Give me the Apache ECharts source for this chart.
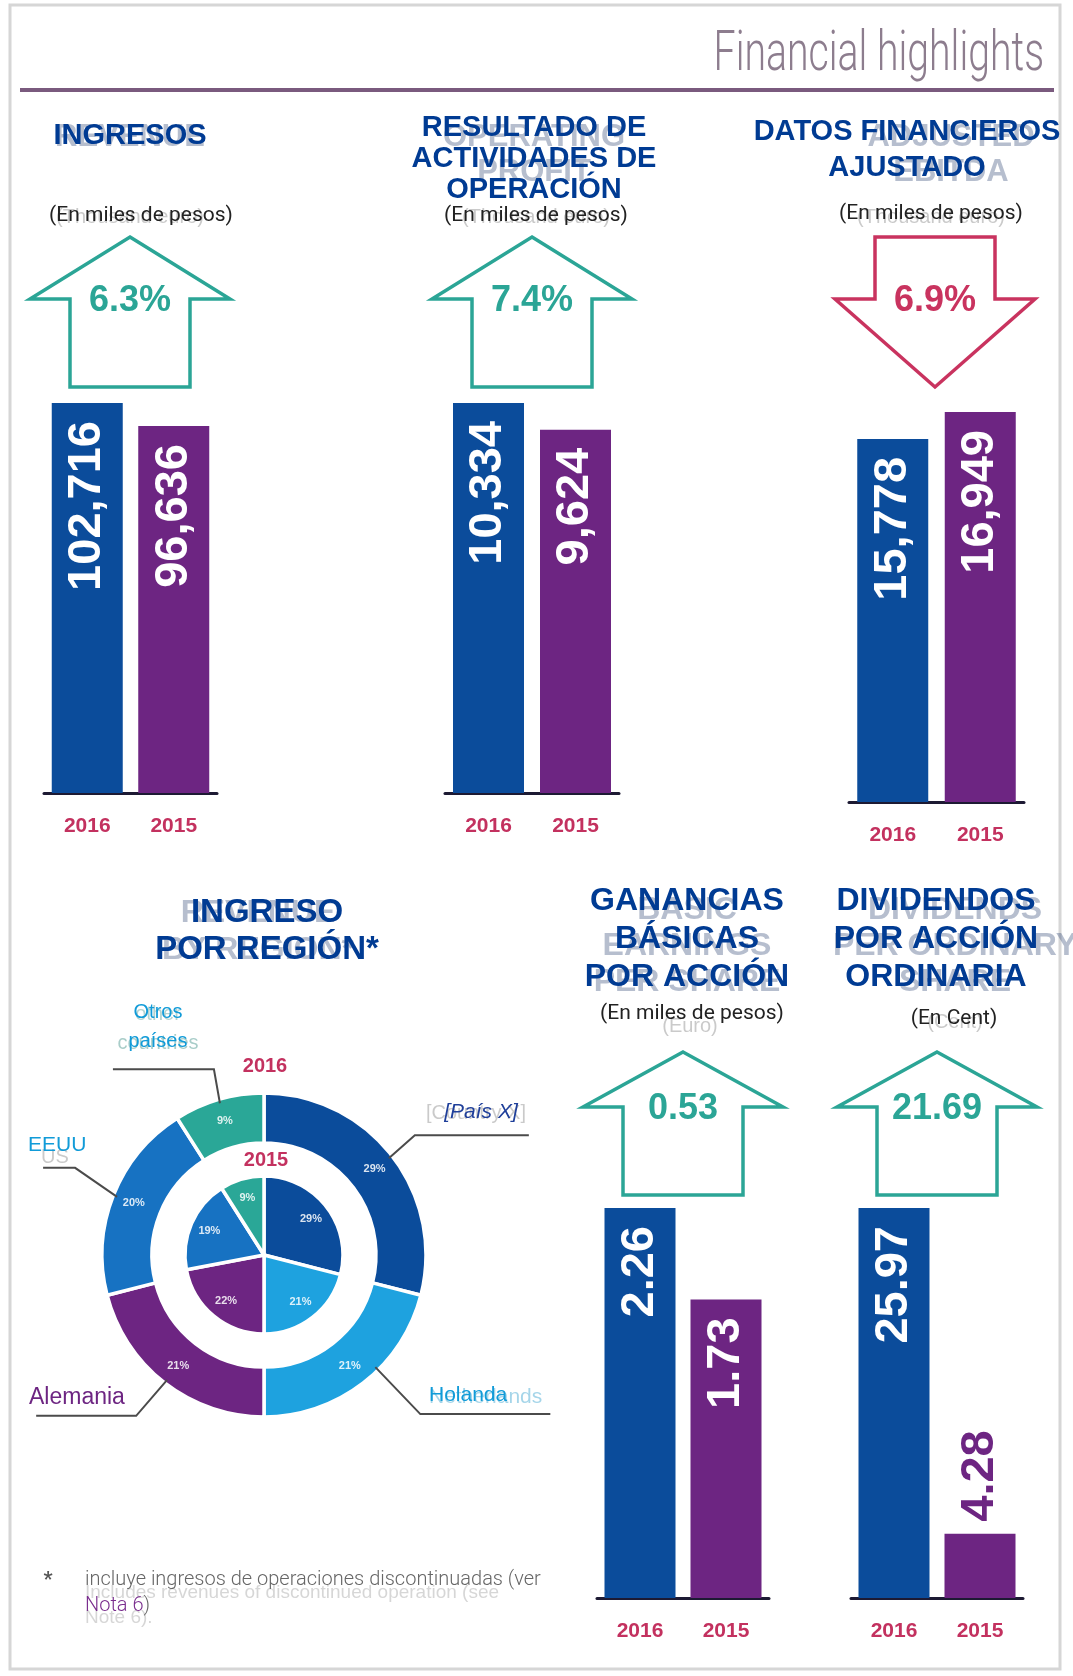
<!DOCTYPE html>
<html>
<head>
<meta charset="utf-8">
<script src="https://cdn.jsdelivr.net/npm/echarts/dist/echarts.min.js"></script>
<style>
  html, body { margin: 0; padding: 0; background: #fff; }
  #main { width: 1073px; height: 1676px; }
</style>
</head>
<body>
<div id="main"></div>
<script>
// datos
const years = ["2016", "2015"];
const ingresos = [102716, 96636];
const resultado = [10334, 9624];
const ebitda = [15778, 16949];
const ganancias = [2.26, 1.73];
const dividendos = [25.97, 4.28];
const cambios = ["6.3%", "7.4%", "6.9%", "0.53", "21.69"];

const regiones = ["[País X]", "Holanda", "Alemania", "EEUU", "Otros países"];
const region2016 = [29, 21, 21, 20, 9];
const region2015 = [29, 21, 22, 19, 9];

const BLUE = "#0b4c9b";
const PURPLE = "#6d2582";
const TEAL = "#2ba596";
const CRIMSON = "#c9335f";
const TITLE = "#003b93";
const SANS = "Liberation Sans";

const myChart = echarts.init(document.getElementById("main"));

// paneles de barras
const panels = [
  { values: ingresos, fmt: v => v.toLocaleString("en-US"), left: 44, top: 403, width: 173 },
  { values: resultado, fmt: v => v.toLocaleString("en-US"), left: 445, top: 403, width: 174 },
  { values: ebitda, fmt: v => v.toLocaleString("en-US"), left: 849, top: 412, width: 175 },
  { values: ganancias, fmt: v => v.toFixed(2), left: 597, top: 1208, width: 172 },
  { values: dividendos, fmt: v => v.toFixed(2), left: 851, top: 1208, width: 172 },
];

const grid = [], xAxis = [], yAxis = [], series = [];
panels.forEach((p, i) => {
  const max = Math.max(...p.values);
  grid.push({ left: p.left, top: p.top, width: p.width, height: 390 });
  xAxis.push({
    type: "category", gridIndex: i, data: years,
    axisTick: { show: false },
    axisLine: { lineStyle: { color: "#1d1a33", width: 3 } },
    axisLabel: { color: "#c3315f", fontWeight: "bold", fontSize: 21, margin: 23, fontFamily: SANS },
  });
  yAxis.push({ type: "value", gridIndex: i, min: 0, max: max, show: false });
  series.push({
    type: "bar", xAxisIndex: i, yAxisIndex: i, barWidth: 71, silent: true,
    data: p.values.map((v, j) => ({
      value: v,
      itemStyle: { color: j === 0 ? BLUE : PURPLE },
      label: v / max < 0.35 ? { position: "top", align: "left", color: PURPLE, distance: 12 } : undefined,
    })),
    label: {
      show: true, formatter: d => p.fmt(d.value), rotate: 90,
      position: "insideTop", align: "right", verticalAlign: "middle", distance: 18,
      color: "#fff", fontSize: 47, fontWeight: "bold", fontFamily: SANS,
    },
  });
});

// dona por region
const pieColors = [BLUE, "#1ea2df", PURPLE, "#1772c2", "#2aa797"];
const CX = 264, CY = 1255;
function midAngles(arr) {
  const tot = arr.reduce((a, b) => a + b, 0);
  let acc = 0;
  return arr.map(v => { const a = (acc + v / 2) / tot * 2 * Math.PI; acc += v; return a; });
}
const mid2016 = midAngles(region2016);
const mid2015 = midAngles(region2015);

series.push({
  type: "pie", center: [CX, CY], radius: [112, 162], startAngle: 90, silent: true,
  data: regiones.map((n, i) => ({ name: n, value: region2016[i], itemStyle: { color: pieColors[i] } })),
  itemStyle: { borderColor: "#fff", borderWidth: 3.5 },
  label: { position: "inside", formatter: "{c}%", color: "rgba(255,255,255,0.85)", fontSize: 11, fontWeight: "bold", fontFamily: SANS },
  labelLine: { show: false },
});
series.push({
  type: "pie", center: [CX, CY], radius: [0, 79], startAngle: 90, silent: true,
  data: regiones.map((n, i) => ({ name: n, value: region2015[i], itemStyle: { color: pieColors[i] } })),
  itemStyle: { borderColor: "#fff", borderWidth: 3.5 },
  label: { position: "inside", formatter: "{c}%", color: "rgba(255,255,255,0.85)", fontSize: 11, fontWeight: "bold", fontFamily: SANS },
  labelLine: { show: false },
  labelLayout: p => {
    const a = mid2015[p.dataIndex], s = 17;
    return { dx: s * Math.sin(a), dy: -s * Math.cos(a) };
  },
});

// graficos decorativos
const g = [];
g.push({ type: "rect", shape: { x: 10, y: 5, width: 1050, height: 1664 }, style: { fill: null, stroke: "#d6d6d6", lineWidth: 3 }, z: 0 });
g.push({ type: "text", style: { text: "Financial highlights", x: 1044, y: 56, textAlign: "right", textVerticalAlign: "middle", fill: "#8d7d8e", font: "300 56px Roboto" }, scaleX: 0.7, originX: 1044, z: 5 });
g.push({ type: "line", shape: { x1: 20, y1: 90, x2: 1054, y2: 90 }, style: { stroke: "#7a5a7e", lineWidth: 4 }, z: 5 });

function ghost(text, x, y, size, color, align) {
  g.push({
    type: "text", z: 2,
    style: {
      text, x, y, textAlign: align || "center", textVerticalAlign: "middle",
      font: (size > 24 ? "bold " : "") + size + "px " + SANS,
      fill: color, shadowColor: color, shadowBlur: 5,
    },
  });
}
const GB = "rgba(40,65,110,0.34)";
const GG = "rgba(90,90,90,0.32)";
ghost("REVENUE", 130, 137, 31, GB);
ghost("OPERATING", 534, 137, 31, GB);
ghost("PROFIT", 534, 172, 31, GB);
ghost("ADJUSTED", 951, 137, 31, GB);
ghost("EBITDA", 951, 172, 31, GB);
ghost("(Thousand euro)", 130, 217, 20, GG);
ghost("(Thousand euro)", 536, 217, 20, GG);
ghost("(Thousand euro)", 931, 217, 20, GG);
ghost("REVENUE", 258, 913, 32, GB);
ghost("BY REGION*", 258, 950, 32, GB);
ghost("BASIC", 687, 910, 32, GB);
ghost("EARNINGS", 687, 946, 32, GB);
ghost("PER SHARE", 687, 982, 32, GB);
ghost("DIVIDENDS", 955, 910, 32, GB);
ghost("PER ORDINARY", 955, 946, 32, GB);
ghost("SHARE", 955, 982, 32, GB);
ghost("(Euro)", 690, 1026, 20, GG);
ghost("(Cent)", 955, 1022, 20, GG);
ghost("other", 158, 1014, 20, "rgba(40,130,120,0.35)");
ghost("countries", 158, 1043, 20, "rgba(40,130,120,0.4)");
ghost("US", 55, 1157, 20, GG);
ghost("[Country X]", 476, 1113, 20, GG);
ghost("Netherlands", 429, 1397, 21, "rgba(30,150,200,0.4)", "left");
ghost("Includes revenues of discontinued operation (see", 85, 1593, 19, "rgba(90,90,90,0.25)", "left");
ghost("Note 6).", 85, 1618, 19, "rgba(90,90,90,0.25)", "left");

function title(text, x, y, size, lh) {
  g.push({
    type: "text", z: 6,
    style: { text, x, y, textAlign: "center", textVerticalAlign: "top", font: "bold " + size + "px " + SANS, fill: TITLE, lineHeight: lh },
  });
}
title("INGRESOS", 130, 120, 29, 31);
title("RESULTADO DE\nACTIVIDADES DE\nOPERACIÓN", 534, 112, 29, 31);
title("DATOS FINANCIEROS\nAJUSTADO", 907, 114, 29, 36);
title("INGRESO\nPOR REGIÓN*", 267, 894, 33, 37);
title("GANANCIAS\nBÁSICAS\nPOR ACCIÓN", 687, 882, 32, 38);
title("DIVIDENDOS\nPOR ACCIÓN\nORDINARIA", 936, 882, 32, 38);

function sub(text, x, y) {
  g.push({ type: "text", z: 6, style: { text, x, y, textAlign: "center", textVerticalAlign: "middle", font: "21px Roboto", fill: "#222" } });
}
sub("(En miles de pesos)", 141, 216);
sub("(En miles de pesos)", 536, 216);
sub("(En miles de pesos)", 931, 214);
sub("(En miles de pesos)", 692, 1014);
sub("(En Cent)", 954, 1019);

// flechas de variacion
const arrows = [
  { cx: 130, top: 237, wing: 299, bot: 387, up: true },
  { cx: 532, top: 237, wing: 299, bot: 387, up: true },
  { cx: 935, top: 237, wing: 299, bot: 387, up: false },
  { cx: 683, top: 1052, wing: 1107, bot: 1195, up: true },
  { cx: 937, top: 1052, wing: 1107, bot: 1195, up: true },
];
arrows.forEach((a, i) => {
  const c = a.cx, w = a.wing;
  const pts = a.up
    ? [[c, a.top], [c + 100, w], [c + 60, w], [c + 60, a.bot], [c - 60, a.bot], [c - 60, w], [c - 100, w]]
    : [[c - 60, a.top], [c + 60, a.top], [c + 60, w], [c + 100, w], [c, a.bot], [c - 100, w], [c - 60, w]];
  const col = a.up ? TEAL : CRIMSON;
  g.push({ type: "polygon", z: 5, shape: { points: pts }, style: { fill: "#fff", stroke: col, lineWidth: 3.5, lineJoin: "miter" } });
  g.push({ type: "text", z: 6, style: { text: cambios[i], x: c, y: w + 2, textAlign: "center", textVerticalAlign: "middle", font: "bold 36px " + SANS, fill: col } });
});

// etiquetas de la dona
g.push({ type: "text", z: 6, style: { text: "2016", x: 265, y: 1066, textAlign: "center", textVerticalAlign: "middle", font: "bold 20px " + SANS, fill: "#c3315f" } });
g.push({ type: "text", z: 6, style: { text: "2015", x: 266, y: 1160, textAlign: "center", textVerticalAlign: "middle", font: "bold 20px " + SANS, fill: "#c3315f" } });

const leaders = [
  { da: 0, el: [26, -23], len: 114, tx: 481, ty: 1112, align: "center", color: "#1f3f9a", font: "italic 21px " + SANS },
  { da: -7, el: [45, 47], len: 130, tx: 429, ty: 1395, align: "left", color: "#119bd8", font: "21px " + SANS },
  { da: 0, el: [-31, 36], len: -100, tx: 29, ty: 1398, align: "left", color: PURPLE, font: "23px " + SANS },
  { da: 0, el: [-42, -29], len: -32, tx: 28, ty: 1145, align: "left", color: "#119bd8", font: "21px " + SANS },
  { da: 0, el: [-6, -34], len: -101, tx: 158, ty: 1027, align: "center", color: "#119bd8", font: "20px " + SANS },
];
const labelText = ["[País X]", "Holanda", "Alemania", "EEUU", "Otros\npaíses"];
leaders.forEach((l, i) => {
  const a = mid2016[i] + l.da * Math.PI / 180;
  const ax = CX + 158 * Math.sin(a), ay = CY - 158 * Math.cos(a);
  const ex = ax + l.el[0], ey = ay + l.el[1];
  g.push({ type: "polyline", z: 4, shape: { points: [[ax, ay], [ex, ey], [ex + l.len, ey]] }, style: { stroke: "#4b4b4b", lineWidth: 2, fill: null } });
  g.push({ type: "text", z: 6, style: { text: labelText[i], x: l.tx, y: l.ty, textAlign: l.align, textVerticalAlign: "middle", font: l.font, fill: l.color, lineHeight: 29 } });
});

// nota al pie
g.push({ type: "text", z: 6, style: { text: "*", x: 48, y: 1581, textAlign: "center", textVerticalAlign: "middle", font: "bold 20px Roboto", fill: "#555" } });
g.push({ type: "text", z: 6, style: { text: "incluye ingresos de operaciones discontinuadas (ver", x: 85, y: 1580, textVerticalAlign: "middle", font: "300 20px Roboto", fill: "#666" } });
g.push({
  type: "text", z: 6,
  style: {
    text: "{p|Nota 6}{n|)}", x: 85, y: 1606, textVerticalAlign: "middle",
    rich: { p: { font: "300 20px Roboto", fill: "#7a2e8e" }, n: { font: "300 20px Roboto", fill: "#666" } },
  },
});

const option = {
  backgroundColor: "#fff",
  animation: false,
  grid, xAxis, yAxis, series,
  graphic: { elements: g },
};
myChart.setOption(option);
</script>
</body>
</html>
